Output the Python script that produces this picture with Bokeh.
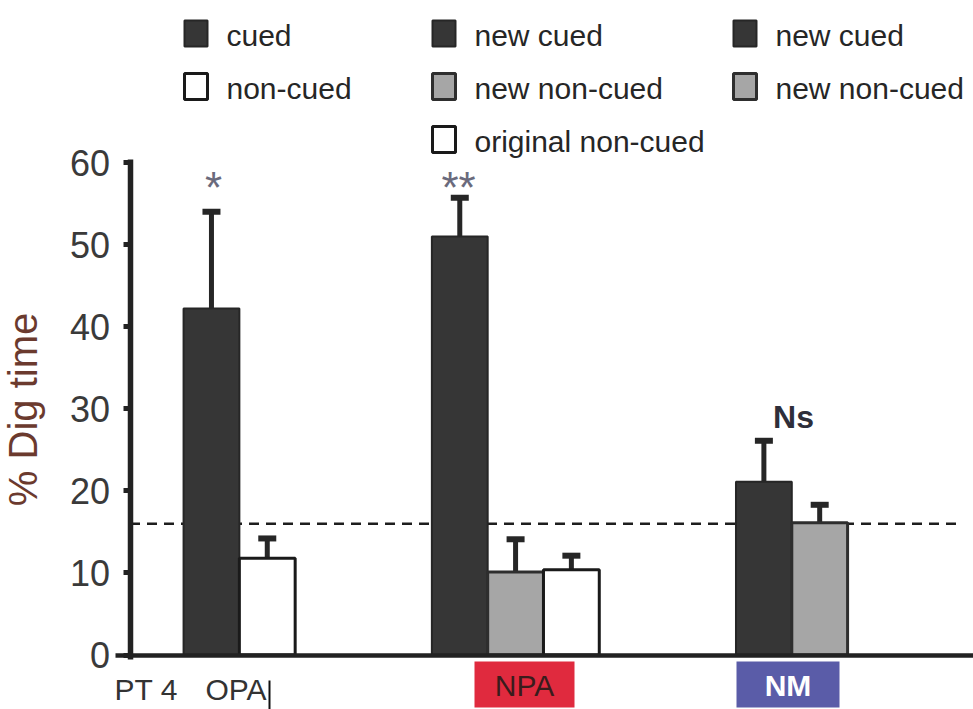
from bokeh.plotting import figure
from bokeh.models import Range1d, LinearAxis, FixedTicker, Whisker, TeeHead, ColumnDataSource
from bokeh.core.properties import value
from bokeh.embed import file_html
from bokeh.resources import INLINE

# ---------------- data ----------------
groups = ["OPA", "NPA", "NM"]
group_series = [
    ["cued", "non-cued"],
    ["new cued", "new non-cued", "original non-cued"],
    ["new cued", "new non-cued"],
]
means = [
    [42.2, 11.8],
    [51.0, 10.1, 10.4],
    [21.1, 16.1],
]
sems = [
    [11.8, 2.4],
    [4.7, 4.0, 1.7],
    [5.0, 2.2],
]
significance = ["*", "**", "Ns"]
chance_level = 16.0
y_ticks = [0, 10, 20, 30, 40, 50, 60]
subject_label = "PT 4"

# ---------------- styles ----------------
series_fill = {
    "cued": "#363636", "new cued": "#363636",
    "non-cued": "#ffffff", "original non-cued": "#ffffff",
    "new non-cued": "#a6a6a6",
}
series_line = {
    "cued": "#262626", "new cued": "#262626",
    "non-cued": "#1a1a1a", "original non-cued": "#1a1a1a",
    "new non-cued": "#2e2e2e",
}
FONT = "Liberation Sans"
TXT = "#262626"

W, H = 973, 709
# reference-pixel -> data helpers (for annotation placement only)
X0, XS = 129.5, 55.8
Y0, YS = 654.5, 8.208
def X(px):
    return (px - X0) / XS
def Y(py):
    return (Y0 - py) / YS

p = figure(width=W, height=H, output_backend="svg", toolbar_location=None,
           x_range=Range1d(X(0), X(W)), y_range=Range1d(Y(H), Y(0)),
           x_axis_location=None, y_axis_location=None,
           min_border_left=0, min_border_right=0, min_border_top=0, min_border_bottom=0)
p.grid.visible = False
p.outline_line_color = None
p.background_fill_color = "white"
p.border_fill_color = "white"

# ---------------- bars ----------------
lead, gap, bw = 0.96, 2.45, 1.0
xs, tops, errs, fills, lines, lws, names = [], [], [], [], [], [], []
start = lead
for g, ser in enumerate(group_series):
    for i, s in enumerate(ser):
        xs.append(start + i * bw + bw / 2)
        tops.append(means[g][i])
        errs.append(means[g][i] + sems[g][i])
        fills.append(series_fill[s])
        lines.append(series_line[s])
        lws.append(2 if series_fill[s] == "#363636" else 3)
        names.append(f"{groups[g]} {s}")
    start += len(ser) * bw + gap

src = ColumnDataSource(dict(x=xs, top=tops, upper=errs, fill=fills, line=lines, lw=lws, name=names))

# chance dashed line
p.line([0, X(962)], [chance_level, chance_level], line_dash="10 7", line_width=2.5, line_color="#1e1e1e")

p.vbar(x="x", top="top", bottom=0, width=bw, source=src, fill_color="fill",
       line_color="line", line_width="lw")

wh = Whisker(base="x", lower="top", upper="upper", source=src,
             line_width=5, line_color="#262626",
             upper_head=TeeHead(size=18, line_width=6, line_color="#262626"),
             lower_head=None)
p.add_layout(wh)

# significance markers
sig_x = [X(213), X(458), X(793)]
sig_y = [Y(187), Y(187), Y(416)]
p.text(x=sig_x[:2], y=sig_y[:2], text=significance[:2], text_align="center",
       text_baseline="middle", text_font=value(FONT), text_font_size=value("44px"),
       text_color="#6a6a7c")
p.text(x=[sig_x[2]], y=[sig_y[2]], text=[significance[2]], text_align="center",
       text_baseline="middle", text_font=value(FONT), text_font_size=value("32px"),
       text_font_style="bold", text_color="#2e2e3a")

# ---------------- axes ----------------
yax = LinearAxis(fixed_location=0, bounds=(-0.6, 60.4), ticker=FixedTicker(ticks=y_ticks))
yax.axis_line_width = 5.5
yax.axis_line_color = "#222222"
yax.major_tick_out = 7
yax.major_tick_in = 0
yax.major_tick_line_width = 5
yax.major_tick_line_color = "#222222"
yax.minor_tick_line_color = None
yax.major_label_text_font = FONT
yax.major_label_text_font_size = "36px"
yax.major_label_text_color = "#3a3a3a"
yax.major_label_standoff = 13
yax.axis_label = "% Dig time"
yax.axis_label_text_font = FONT
yax.axis_label_text_font_size = "40px"
yax.axis_label_text_font_style = "normal"
yax.axis_label_text_color = "#6b3a2e"
yax.axis_label_standoff = 22
p.add_layout(yax, "left")

xax = LinearAxis(fixed_location=0, bounds=(X(115), X(973)), ticker=FixedTicker(ticks=[]))
xax.axis_line_width = 4.5
xax.axis_line_color = "#222222"
xax.major_tick_line_color = None
xax.minor_tick_line_color = None
xax.major_label_text_font_size = "0px"
p.add_layout(xax, "below")

# ---------------- group labels below axis ----------------
p.text(x=[X(114), X(205)], y=[Y(689), Y(689)], text=[subject_label, groups[0]],
       text_baseline="middle", text_font=value(FONT), text_font_size=value("30px"),
       text_color="#333333")
p.segment(x0=[X(269)], y0=[Y(680)], x1=[X(269)], y1=[Y(709)], line_width=2, line_color="#111111")

box_px = [(474, 574, "#e02a3e", "#3a1c1c", "normal"), (736, 839, "#5a5ca8", "#ffffff", "bold")]
for (l, r, bg, fg, st), name in zip(box_px, groups[1:]):
    p.quad(left=[X(l)], right=[X(r)], top=[Y(661)], bottom=[Y(707)], fill_color=bg, line_color=None)
    p.text(x=[X((l + r) / 2)], y=[Y(685)], text=[name], text_align="center", text_baseline="middle",
           text_font=value(FONT), text_font_size=value("30px"), text_font_style=st, text_color=fg)

# ---------------- legend (three columns) ----------------
col_left = [184, 432, 733]
row_top = [20, 73, 126]
sq = 26
for c, ser in enumerate(group_series):
    for r, s in enumerate(ser):
        l, t = col_left[c], row_top[r]
        p.quad(left=[X(l)], right=[X(l + sq - 3)], top=[Y(t)], bottom=[Y(t + sq)],
               fill_color=series_fill[s], line_color=series_line[s],
               line_width=2 if series_fill[s] == "#363636" else 3)
        p.text(x=[X(l + 42)], y=[Y(t + 15)], text=[s], text_baseline="middle",
               text_font=value(FONT), text_font_size=value("30px"), text_color=TXT)

open("out.html", "w").write(file_html(p, INLINE))
